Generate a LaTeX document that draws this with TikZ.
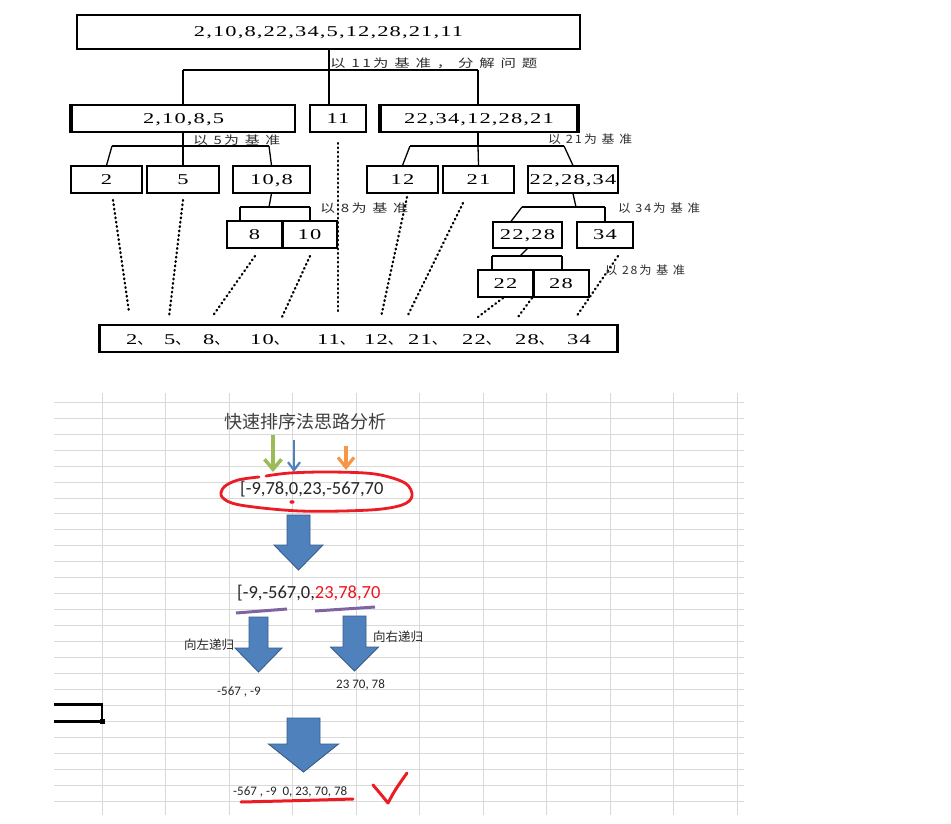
\documentclass[tikz,border=0pt]{standalone}
\usepackage{fontspec}
\usepackage{graphicx}
\usetikzlibrary{arrows.meta}
\newfontfamily\numf[LetterSpace=5]{Liberation Serif}
\newfontfamily\cjkl[LetterSpace=15]{Noto Sans CJK SC}
\newfontfamily\cjk{Noto Sans CJK SC}
\newfontfamily\calf{Carlito}
\definecolor{gridc}{RGB}{217,217,217}
\definecolor{lblc}{RGB}{45,45,45}
\definecolor{titlec}{RGB}{64,64,64}
\definecolor{numc}{RGB}{38,38,38}
\definecolor{redpen}{RGB}{235,28,36}
\definecolor{redtxt}{RGB}{240,20,30}
\definecolor{purp}{RGB}{128,100,162}
\definecolor{blkfill}{RGB}{79,129,189}
\definecolor{blkline}{RGB}{56,93,138}
\definecolor{arrgreen}{RGB}{155,187,89}
\definecolor{arrblue}{RGB}{79,129,189}
\definecolor{arrorange}{RGB}{247,150,70}
\newcommand\nt[1]{\scalebox{1.5}[1]{#1}}
\newcommand\lb[2]{\resizebox{#1pt}{\height}{\fontsize{11.5}{13}\cjkl #2}}
\newcommand\blockarrow[6]{%
  \draw[blk] (#1-#3,#2) -- (#1+#3,#2) -- (#1+#3,#4) -- (#1+#5,#4) -- (#1,#6)
    -- (#1-#5,#4) -- (#1-#3,#4) -- cycle;}
\begin{document}
\begin{tikzpicture}[x=1pt,y=-1pt,
  bx/.style={draw, line width=1.7pt, inner sep=0pt, text height=10pt, text depth=0pt,
    font=\fontsize{15}{18}\numf},
  sbx/.style={bx, line width=1.1pt},
  wh/.style 2 args={minimum width=#1pt, minimum height=#2pt},
  conn/.style={line width=1.3pt},
  thick side/.style={line width=3.4pt},
  dotl/.style={line width=2.3pt, dash pattern=on 0.8pt off 3.6pt, line cap=round},
  lbl/.style={anchor=west, inner sep=0pt, text=lblc},
  bnum/.style={anchor=base west, inner sep=0pt, font=\fontsize{15}{18}\numf},
  gridl/.style={draw=gridc, line width=1pt},
  blk/.style={fill=blkfill, draw=blkline, line width=0.9pt},
  txt/.style={anchor=west, inner sep=0pt},
]
\useasboundingbox (0,0) rectangle (951,824);
\fill[white] (0,0) rectangle (951,824);

% ---------------- top: tree ----------------
\node[bx, wh={503}{34}] (top) at (328.5,32) {\nt{2,10,8,22,34,5,12,28,21,11}};
\node[bx, wh={223}{27}] (L) at (183.5,118.5) {\nt{2,10,8,5}};
\node[bx, wh={56}{27}] (M) at (338,118.5) {\nt{11}};
\node[bx, wh={196}{27}] (R) at (479,118.5) {\nt{22,34,12,28,21}};
\draw[thick side] (L.north west) -- (L.south west);
\draw[thick side] (R.north west) -- (R.south west);
\draw[thick side] (R.north east) -- (R.south east);

\node[sbx, wh={71}{27}] (n2) at (106.5,179.5) {\nt{2}};
\node[sbx, wh={72}{27}] (n5) at (183,179.5) {\nt{5}};
\node[sbx, wh={77}{27}] (n108) at (271.5,179.5) {\nt{10,8}};
\node[sbx, wh={71}{27}] (n12) at (402.5,179.5) {\nt{12}};
\node[sbx, wh={71}{27}] (n21) at (478.5,179.5) {\nt{21}};
\node[sbx, wh={90}{27}] (n222834) at (573,179.5) {\nt{22,28,34}};
\node[sbx, wh={55}{27}] (n8) at (254.5,234.5) {\nt{8}};
\node[sbx, wh={55}{27}] (n10) at (309.5,234.5) {\nt{10}};
\draw[line width=2pt] (n8.north east) -- (n8.south east);
\node[sbx, wh={69}{26}] (n2228) at (527.5,235) {\nt{22,28}};
\node[sbx, wh={56}{26}] (n34) at (605,235) {\nt{34}};
\node[sbx, wh={55}{27}] (n22) at (505.5,283.5) {\nt{22}};
\node[sbx, wh={56}{27}] (n28) at (561,283.5) {\nt{28}};
\draw[line width=2pt] (n22.north east) -- (n22.south east);

\node[draw, line width=1.5pt, inner sep=0pt, wh={517}{27}] (bot) at (358.5,338.5) {};
\draw[thick side] (bot.north west) -- (bot.south west);
\draw[thick side] (bot.north east) -- (bot.south east);
\node[bnum] (s1) at (126,344) {\nt{2}{\cjk 、}};
\node[bnum] (s2) at (164,344) {\nt{5}{\cjk 、}};
\node[bnum] (s3) at (203,344) {\nt{8}{\cjk 、}};
\node[bnum] (s4) at (250,344) {\nt{10}{\cjk 、}};
\node[bnum] (s5) at (317,344) {\nt{11}{\cjk 、}};
\node[bnum] (s6) at (364,344) {\nt{12}{\cjk 、}};
\node[bnum] (s7) at (408,344) {\nt{21}{\cjk 、}};
\node[bnum] (s8) at (462,344) {\nt{22}{\cjk 、}};
\node[bnum] (s9) at (515,344) {\nt{28}{\cjk 、}};
\node[bnum] (s10) at (567,344) {\nt{34}};

% connectors level 1
\coordinate (b1l) at (183,70); \coordinate (b1m) at (329,70); \coordinate (b1r) at (478,70);
\draw[conn] (b1m |- top.south) -- (b1m);
\draw[conn] (b1l) -- (b1r);
\draw[conn] (b1l) -- (b1l |- L.north);
\draw[conn] (b1m) -- (b1m |- M.north);
\draw[conn] (b1r) -- (b1r |- R.north);
% left group
\coordinate (b2l) at (112,146); \coordinate (b2m) at (183,146); \coordinate (b2r) at (269,146);
\draw[conn] (b2m |- L.south) -- (b2m);
\draw[conn] (b2l) -- (b2r);
\draw[conn] (b2l) -- (n2.north);
\draw[conn] (b2m) -- (n5.north);
\draw[conn] (b2r) -- (n108.north);
% right group
\coordinate (b3l) at (410,146); \coordinate (b3m) at (478,146); \coordinate (b3r) at (564,146);
\draw[conn] (b3m |- R.south) -- (b3m);
\draw[conn] (b3l) -- (b3r);
\draw[conn] (b3l) -- (n12.north);
\draw[conn] (b3m) -- (n21.north);
\draw[conn] (b3r) -- (n222834.north);
% 10,8
\coordinate (b4l) at (240,207); \coordinate (b4m) at (269,207); \coordinate (b4r) at (310,207);
\draw[conn] (n108.south) -- (b4m);
\draw[conn] (b4l) -- (b4r);
\draw[conn] (b4l) -- (b4l |- n8.north);
\draw[conn] (b4r) -- (b4r |- n10.north);
% 22,28,34
\coordinate (b5l) at (522,207); \coordinate (b5m) at (576,207); \coordinate (b5r) at (605,207);
\draw[conn] (n222834.south) -- (b5m);
\draw[conn] (b5l) -- (b5r);
\draw[conn] (b5l) -- ([xshift=-16.5pt]n2228.north);
\draw[conn] (b5r) -- (n34.north);
% 22,28
\coordinate (b6l) at (492,256); \coordinate (b6m) at (520,256); \coordinate (b6r) at (562,256);
\draw[conn] (n2228.south) -- (b6m);
\draw[conn] (b6l) -- (b6r);
\draw[conn] (b6l) -- (b6l |- n22.north);
\draw[conn] (b6r) -- (b6r |- n28.north);

% dotted lines
\coordinate (d2a) at (113,200);  \coordinate (d2b) at (129,312);
\coordinate (d5a) at (183,200);  \coordinate (d5b) at (169,317);
\coordinate (d8a) at (255,256);  \coordinate (d8b) at (212,317);
\coordinate (d10a) at (310,256); \coordinate (d10b) at (282,317);
\coordinate (d11a) at (338,143); \coordinate (d11b) at (338,312);
\coordinate (d12a) at (407,197); \coordinate (d12b) at (381,317);
\coordinate (d21a) at (463,203); \coordinate (d21b) at (407,317);
\coordinate (d22a) at (503,298); \coordinate (d22b) at (478,317);
\coordinate (d28a) at (532,298); \coordinate (d28b) at (518,317);
\coordinate (d34a) at (618,256); \coordinate (d34b) at (576,317);
\foreach \d in {d2,d5,d8,d10,d11,d12,d21,d22,d28,d34}
  \draw[dotl] (\d a) -- (\d b);

% labels
\node[lbl] (l1) at (330,63) {\lb{207}{以 11为 基 准 ， 分 解 问 题}};
\node[lbl] (l2) at (193,140) {\lb{87}{以 5为 基 准}};
\node[lbl] (l3) at (548,139) {\lb{84}{以 21为 基 准}};
\node[lbl] (l4) at (320,208) {\lb{88}{以 8为 基 准}};
\node[lbl] (l5) at (618,208) {\lb{82}{以 34为 基 准}};
\node[lbl] (l6) at (605,270) {\lb{80}{以 28为 基 准}};

% ---------------- bottom: spreadsheet ----------------
\foreach \x in {102,165.5,229,292.5,356,419.5,483,546.5,610,673.5,737.5}
  \draw[gridl] (\x,393) -- (\x,815);
\foreach \k in {0,...,25}
  \draw[gridl] (54,402.3+15.95*\k) -- (744,402.3+15.95*\k);

\node[font=\fontsize{18}{22}\cjk, text=titlec, inner sep=0pt] (title) at (305.5,422) {快速排序法思路分析};

\draw[arrgreen, line width=3.5pt, -{Straight Barb[length=10pt,width=17pt]}] (273,435) -- (273,472);
\draw[arrblue, line width=2.2pt, -{Straight Barb[length=8pt,width=12pt]}] (294,440) -- (294,472);
\draw[arrorange, line width=3.2pt, -{Straight Barb[length=10pt,width=16pt]}] (346,446) -- (346,470);

\node[txt, font=\fontsize{18.5}{22}\calf, text=numc] (arr1) at (240,489) {[-9,78,0,23,-567,70};
\draw[redpen, line width=2.8pt, line cap=round, line join=round]
  plot[smooth, tension=0.55] coordinates {(259,477) (238,480) (224,487) (222,497) (240,505)
  (300,511) (370,510) (402,505) (412,496) (405,483) (375,474) (330,472) (290,473) (266,476)};
\fill[redpen] (292,502) ellipse (2.6pt and 1.8pt);

\blockarrow{298.5}{515}{11.5}{545}{24.5}{570}

\node[txt, font=\fontsize{18.5}{22}\calf, text=numc] (arr2) at (237,593) {[-9,-567,0,\textcolor{redtxt}{23,78,70}};
\draw[purp, line width=3pt] (236,613) -- (287,609);
\draw[purp, line width=3pt] (315,611) -- (375,607);

\blockarrow{258.5}{617}{9.5}{648}{23.5}{672}
\blockarrow{354.5}{616}{11.5}{647}{24}{671}

\node[txt, font=\fontsize{12.5}{15}\cjk, text=numc] (lrec) at (184,645) {向左递归};
\node[txt, font=\fontsize{12.5}{15}\cjk, text=numc] (rrec) at (373,637) {向右递归};
\node[txt, font=\fontsize{13}{15}\calf, text=numc] (lres) at (217,692) {-567 , -9};
\node[txt, font=\fontsize{13}{15}\calf, text=numc] (rres) at (336,685) {23 70, 78};

\draw[line width=2.6pt] (54,704.5) -- (102,704.5) -- (102,721.5) -- (54,721.5);
\fill (99.5,719) rectangle (104.5,724);

\blockarrow{303.5}{718}{16.5}{744}{35}{772}

\node[txt, font=\fontsize{13}{15}\calf, text=numc] (fin) at (233,792) {-567 , -9\ \ 0, 23, 70, 78};
\draw[redpen, line width=3pt, line cap=round] (241,802) .. controls (285,801) and (320,800) .. (353,799);
\draw[redpen, line width=3pt, line cap=round, line join=round]
  (373,785) .. controls (379,792) .. (388,803) .. controls (395,790) .. (407,773);
\end{tikzpicture}
\end{document}
